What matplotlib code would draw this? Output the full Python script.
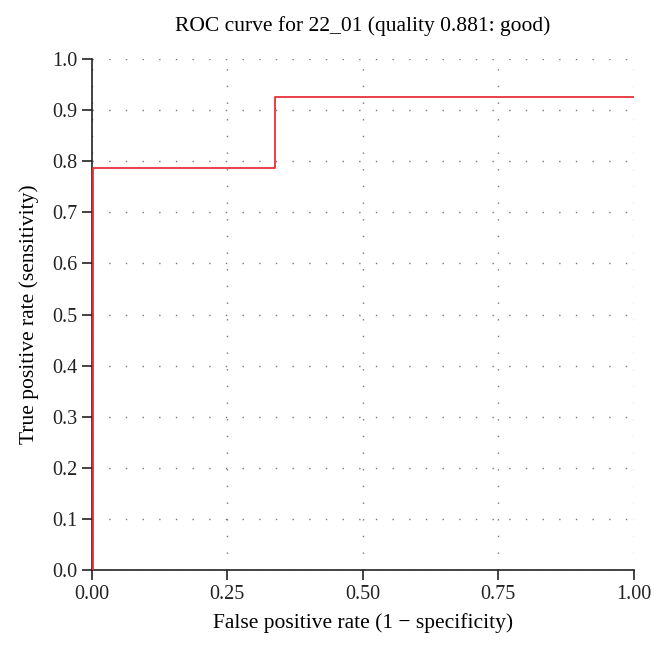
import matplotlib.pyplot as plt

fpr = [0.0, 0.003, 0.003, 0.338, 0.338, 1.0]
tpr = [0.0, 0.0, 0.787, 0.787, 0.925, 0.925]
xticks = [0.0, 0.25, 0.5, 0.75, 1.0]
yticks = [i / 10 for i in range(11)]

plt.rcParams['font.family'] = ['Liberation Serif', 'DejaVu Serif']

fig = plt.figure(figsize=(6.65, 6.54), dpi=100)
ax = fig.add_axes([0.138, 0.128, 0.815, 0.782])

ax.plot(fpr, tpr, color='#e8323a', lw=1.3, zorder=3)

ax.set_xlim(0, 1)
ax.set_ylim(0, 1)
ax.set_xticks(xticks)
ax.set_xticklabels(["{:.2f}".format(v) for v in xticks])
ax.set_yticks(yticks)
ax.set_yticklabels(["{:.1f}".format(v) for v in yticks])
ax.grid(True, color='#777777', linestyle=(0, (1, 11)), lw=1.0)
for s in ['top', 'right']:
    ax.spines[s].set_visible(False)
for s in ['left', 'bottom']:
    ax.spines[s].set_color('#222222')
    ax.spines[s].set_linewidth(1.2)
ax.tick_params(direction='out', length=7, width=1.2, labelsize=14.5, colors='#222222')
ax.set_xlabel("False positive rate (1 \u2212 specificity)", fontsize=15.5, labelpad=7)
ax.set_ylabel("True positive rate (sensitivity)", fontsize=15.5, labelpad=9)
ax.set_title("ROC curve for 22_01 (quality 0.881: good)", fontsize=15.5, pad=20)

fig.savefig("out.png")
